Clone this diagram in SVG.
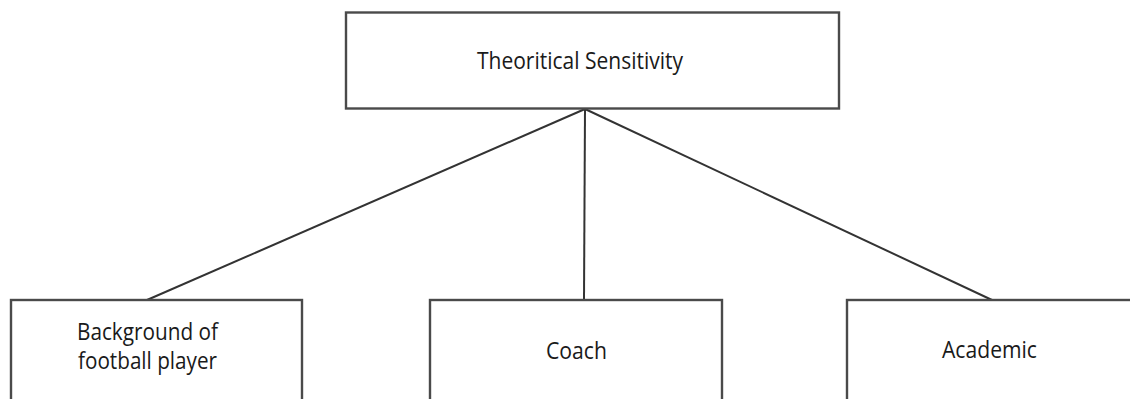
<svg xmlns="http://www.w3.org/2000/svg" width="1130" height="399" viewBox="0 0 1130 399">
<style>
.box{fill:#fff;stroke:#4a4a4a;stroke-width:2.4}
.lbl{font-family:"Open Sans","Noto Sans","DejaVu Sans",sans-serif;font-size:24px;fill:#1a1a1a;text-anchor:middle}
.sm{font-size:23px}
.conn{stroke:#333;stroke-width:2;fill:none}
</style>
<rect width="1130" height="399" fill="#fff"/>
<g id="connectors">
<line class="conn" x1="585" y1="109" x2="147" y2="300"/>
<line class="conn" x1="585" y1="109" x2="584" y2="300"/>
<line class="conn" x1="585" y1="109" x2="992" y2="300"/>
</g>
<g id="node-theoretical">
<rect class="box" x="346" y="12.5" width="493" height="96"/>
<text class="lbl" x="580" y="69" textLength="206" lengthAdjust="spacingAndGlyphs">Theoritical Sensitivity</text>
</g>
<g id="node-background">
<rect class="box" x="11" y="300" width="291" height="130"/>
<text class="lbl sm"><tspan x="147.5" y="340" textLength="141" lengthAdjust="spacingAndGlyphs">Background of</tspan><tspan x="147.5" y="369" textLength="139" lengthAdjust="spacingAndGlyphs">football player</tspan></text>
</g>
<g id="node-coach">
<rect class="box" x="430" y="300" width="292" height="130"/>
<text class="lbl" x="576.5" y="359" textLength="61" lengthAdjust="spacingAndGlyphs">Coach</text>
</g>
<g id="node-academic">
<rect class="box" x="847" y="300" width="300" height="130"/>
<text class="lbl" x="989.5" y="358" textLength="95" lengthAdjust="spacingAndGlyphs">Academic</text>
</g>
</svg>
